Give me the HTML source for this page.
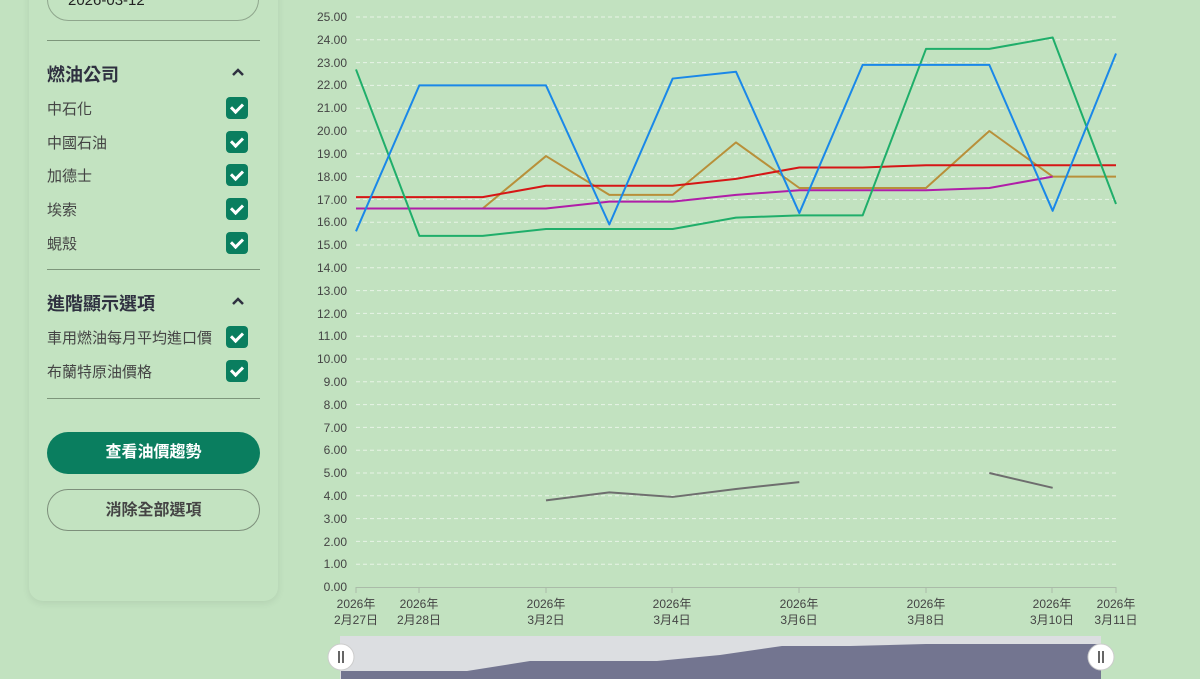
<!DOCTYPE html>
<html><head><meta charset="utf-8"><style>
body{margin:0;width:1200px;height:679px;background:#c2e2c0;font-family:"Liberation Sans","Noto Sans CJK TC",sans-serif;overflow:hidden;position:relative}
.panel{position:absolute;left:29px;top:-20px;width:249px;height:621px;background:#c3e3c1;border-radius:14px;box-shadow:0 2px 8px rgba(0,0,0,0.08)}
.date{position:absolute;left:47px;top:-22px;width:212px;height:43px;border:1px solid #8fa68d;border-radius:22px;box-sizing:border-box}
.date span{position:absolute;left:20px;top:14px;font-size:15px;color:#222;line-height:1}
.hr{position:absolute;left:47px;width:213px;height:1px;background:#7d967b}
.h{position:absolute;left:47px;font-size:18px;font-weight:bold;color:#2f3140}
.car{position:absolute;left:232px;width:12px;height:8px}
.it{position:absolute;left:47px;font-size:15px;color:#444}
.cb{position:absolute;left:226px;width:22px;height:22px;background:#0a7e5f;border-radius:4px}
.cb:after{content:"";position:absolute;left:7px;top:4px;width:5px;height:9px;border:solid #fff;border-width:0 3px 3px 0;transform:rotate(45deg)}
.btn{position:absolute;left:47px;width:213px;height:42px;border-radius:21px;box-sizing:border-box;text-align:center;line-height:42px;font-size:16px;font-weight:bold}
</style></head><body>
<div class="panel"></div>
<div class="date"><span>2026-03-12</span></div>
<div class="hr" style="top:40px"></div>
<div class="h" style="top:61px">燃油公司</div><svg class="car" style="top:68px"><path d="M1 7L6 2L11 7" fill="none" stroke="#2f3140" stroke-width="2.5"/></svg>
<div class="it" style="top:98px">中石化</div><div class="cb" style="top:97px"></div>
<div class="it" style="top:132px">中國石油</div><div class="cb" style="top:131px"></div>
<div class="it" style="top:165px">加德士</div><div class="cb" style="top:164px"></div>
<div class="it" style="top:199px">埃索</div><div class="cb" style="top:198px"></div>
<div class="it" style="top:233px">蜆殼</div><div class="cb" style="top:232px"></div>
<div class="hr" style="top:269px"></div>
<div class="h" style="top:290px">進階顯示選項</div><svg class="car" style="top:297px"><path d="M1 7L6 2L11 7" fill="none" stroke="#2f3140" stroke-width="2.5"/></svg>
<div class="it" style="top:327px">車用燃油每月平均進口價</div><div class="cb" style="top:326px"></div>
<div class="it" style="top:361px">布蘭特原油價格</div><div class="cb" style="top:360px"></div>
<div class="hr" style="top:398px"></div>
<div class="btn" style="top:432px;background:#0a7e5f;color:#fff">查看油價趨勢</div>
<div class="btn" style="top:489px;border:1.5px solid #7d8f7b;color:#444">消除全部選項</div>
<svg width="1200" height="679" style="position:absolute;left:0;top:0" font-family="Liberation Sans,Noto Sans CJK TC,sans-serif">
<path d="M356 17H1116M356 39.8H1116M356 62.6H1116M356 85.4H1116M356 108.2H1116M356 131H1116M356 153.8H1116M356 176.6H1116M356 199.4H1116M356 222.2H1116M356 245H1116M356 267.8H1116M356 290.6H1116M356 313.4H1116M356 336.2H1116M356 359H1116M356 381.8H1116M356 404.6H1116M356 427.4H1116M356 450.2H1116M356 473H1116M356 495.8H1116M356 518.6H1116M356 541.4H1116M356 564.2H1116" stroke="#e8f4e6" stroke-dasharray="4,3" stroke-width="1"/>
<path d="M356 587.5H1116M356 587V593M419 587V593M546 587V593M672 587V593M799 587V593M926 587V593M1052 587V593M1116 587V593" stroke="#aabba8"/>
<g font-size="12" fill="#444" text-anchor="end">
<text x="347" y="21">25.00</text><text x="347" y="44">24.00</text><text x="347" y="67">23.00</text><text x="347" y="89">22.00</text><text x="347" y="112">21.00</text><text x="347" y="135">20.00</text><text x="347" y="158">19.00</text><text x="347" y="181">18.00</text><text x="347" y="204">17.00</text><text x="347" y="226">16.00</text><text x="347" y="249">15.00</text><text x="347" y="272">14.00</text><text x="347" y="295">13.00</text><text x="347" y="318">12.00</text><text x="347" y="340">11.00</text><text x="347" y="363">10.00</text><text x="347" y="386">9.00</text><text x="347" y="409">8.00</text><text x="347" y="432">7.00</text><text x="347" y="454">6.00</text><text x="347" y="477">5.00</text><text x="347" y="500">4.00</text><text x="347" y="523">3.00</text><text x="347" y="546">2.00</text><text x="347" y="568">1.00</text><text x="347" y="591">0.00</text>
</g>
<g font-size="12" fill="#444" text-anchor="middle">
<text x="356" y="608">2026年</text><text x="356" y="624">2月27日</text>
<text x="419" y="608">2026年</text><text x="419" y="624">2月28日</text>
<text x="546" y="608">2026年</text><text x="546" y="624">3月2日</text>
<text x="672" y="608">2026年</text><text x="672" y="624">3月4日</text>
<text x="799" y="608">2026年</text><text x="799" y="624">3月6日</text>
<text x="926" y="608">2026年</text><text x="926" y="624">3月8日</text>
<text x="1052" y="608">2026年</text><text x="1052" y="624">3月10日</text>
<text x="1116" y="608">2026年</text><text x="1116" y="624">3月11日</text>
</g>
<g transform="translate(356,587) scale(63.333,-22.8)" fill="none" stroke-width="2" stroke-linejoin="round">
<polyline vector-effect="non-scaling-stroke" stroke="#b8903a" points="0,16.6 1,16.6 2,16.6 3,18.9 4,17.2 5,17.2 6,19.5 7,17.5 8,17.5 9,17.5 10,20 11,18 12,18"/>
<polyline vector-effect="non-scaling-stroke" stroke="#b01ea8" points="0,16.6 1,16.6 2,16.6 3,16.6 4,16.9 5,16.9 6,17.2 7,17.4 8,17.4 9,17.4 10,17.5 11,18"/>
<polyline vector-effect="non-scaling-stroke" stroke="#d61616" points="0,17.1 1,17.1 2,17.1 3,17.6 4,17.6 5,17.6 6,17.9 7,18.4 8,18.4 9,18.5 10,18.5 11,18.5 12,18.5"/>
<polyline vector-effect="non-scaling-stroke" stroke="#1fae6a" points="0,22.7 1,15.4 2,15.4 3,15.7 4,15.7 5,15.7 6,16.2 7,16.3 8,16.3 9,23.6 10,23.6 11,24.1 12,16.8"/>
<polyline vector-effect="non-scaling-stroke" stroke="#1a88e8" points="0,15.6 1,22 2,22 3,22 4,15.9 5,22.3 6,22.6 7,16.4 8,22.9 9,22.9 10,22.9 11,16.5 12,23.4"/>
<polyline vector-effect="non-scaling-stroke" stroke="#6e6e6e" points="3,3.8 4,4.15 5,3.95 6,4.3 7,4.6"/>
<polyline vector-effect="non-scaling-stroke" stroke="#6e6e6e" points="10,5.0 11,4.35"/>
</g>
<rect x="340" y="636" width="761" height="43" fill="#dcdee1"/>
<path d="M341 679V671H467L530 661H657L720 655L782 646H850L926 644H1101V679Z" fill="#737590"/>
<circle cx="341" cy="657" r="13" fill="#fff" stroke="#ccc"/><path d="M339 651V663M343 651V663" stroke="#333" stroke-width="1.5"/>
<circle cx="1101" cy="657" r="13" fill="#fff" stroke="#ccc"/><path d="M1099 651V663M1103 651V663" stroke="#333" stroke-width="1.5"/>
</svg>
</body></html>
